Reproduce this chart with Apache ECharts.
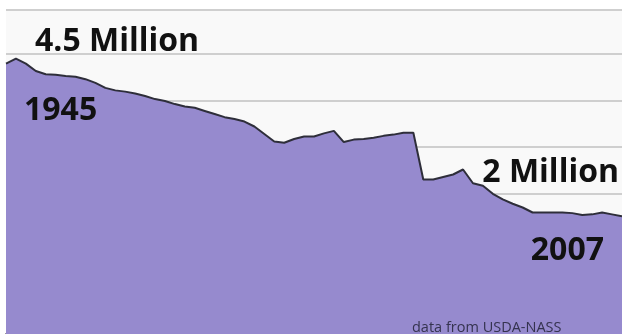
<!DOCTYPE html>
<html>
<head>
<meta charset="utf-8">
<script src="https://cdn.jsdelivr.net/npm/echarts@6/dist/echarts.min.js"></script>
<style>
  html, body { margin: 0; padding: 0; background: #ffffff; }
  #chart { width: 622px; height: 334px; }
</style>
</head>
<body>
<div id="chart"></div>
<script>
// Number of farms, in millions, 1945–2007 (USDA-NASS)
const years = [];
for (let y = 1945; y <= 2007; y++) years.push(String(y));

const farmsMillions = [
  4.34, 4.42, 4.34, 4.22, 4.17, 4.16, 4.14, 4.13, 4.09, 4.03,
  3.95, 3.91, 3.89, 3.86, 3.82, 3.77, 3.74, 3.69, 3.65, 3.63,
  3.58, 3.53, 3.48, 3.45, 3.41, 3.33, 3.21, 3.09, 3.07, 3.13,
  3.17, 3.17, 3.22, 3.26, 3.08, 3.12, 3.13, 3.15, 3.18, 3.20,
  3.23, 3.23, 2.48, 2.48, 2.52, 2.56, 2.64, 2.42, 2.38, 2.25,
  2.16, 2.09, 2.03, 1.95, 1.95, 1.95, 1.95, 1.94, 1.91, 1.92,
  1.95, 1.92, 1.89
];

const annotations = ['4.5 Million', '1945', '2 Million', '2007'];
const sourceNote = 'data from USDA-NASS';

const chart = echarts.init(document.getElementById('chart'), null, { renderer: 'canvas' });

const bigText = (text, x, y, align) => ({
  type: 'text',
  x: x, y: y,
  z: 100,
  style: {
    text: text,
    fill: '#111111',
    font: 'bold 32px "Open Sans", Lato, sans-serif',
    textAlign: align || 'left',
    textVerticalAlign: 'middle'
  }
});

chart.setOption({
  backgroundColor: '#ffffff',
  animation: false,
  grid: {
    left: 6, right: 0, top: 10, height: 333,
    show: true, backgroundColor: '#f9f9f9', borderWidth: 0
  },
  xAxis: {
    type: 'category',
    data: years,
    boundaryGap: false,
    position: 'top',
    axisLine: { show: true, lineStyle: { color: '#7a7a7a', width: 2 } },
    axisTick: { show: false },
    axisLabel: { show: false },
    splitLine: { show: false }
  },
  yAxis: {
    type: 'value',
    min: 0,
    max: 5.2,
    interval: 0.75,
    axisLine: { show: false },
    axisTick: { show: false },
    axisLabel: { show: false },
    splitLine: { show: true, lineStyle: { color: '#cfcfcf', width: 2 } }
  },
  series: [{
    type: 'line',
    data: farmsMillions,
    symbol: 'none',
    lineStyle: { color: '#2e2e3a', width: 2 },
    areaStyle: { color: '#968ACE', opacity: 1 },
    z: 5
  }],
  graphic: [
    bigText(annotations[0], 35, 42),
    bigText(annotations[1], 24, 111),
    bigText(annotations[2], 619, 173, 'right'),
    bigText(annotations[3], 604, 251, 'right'),
    {
      type: 'text',
      x: 412, y: 328,
      z: 100,
      style: {
        text: sourceNote,
        fill: '#35334f',
        font: '14.5px "Open Sans", Lato, sans-serif',
        textAlign: 'left',
        textVerticalAlign: 'middle'
      }
    }
  ]
});
</script>
</body>
</html>
